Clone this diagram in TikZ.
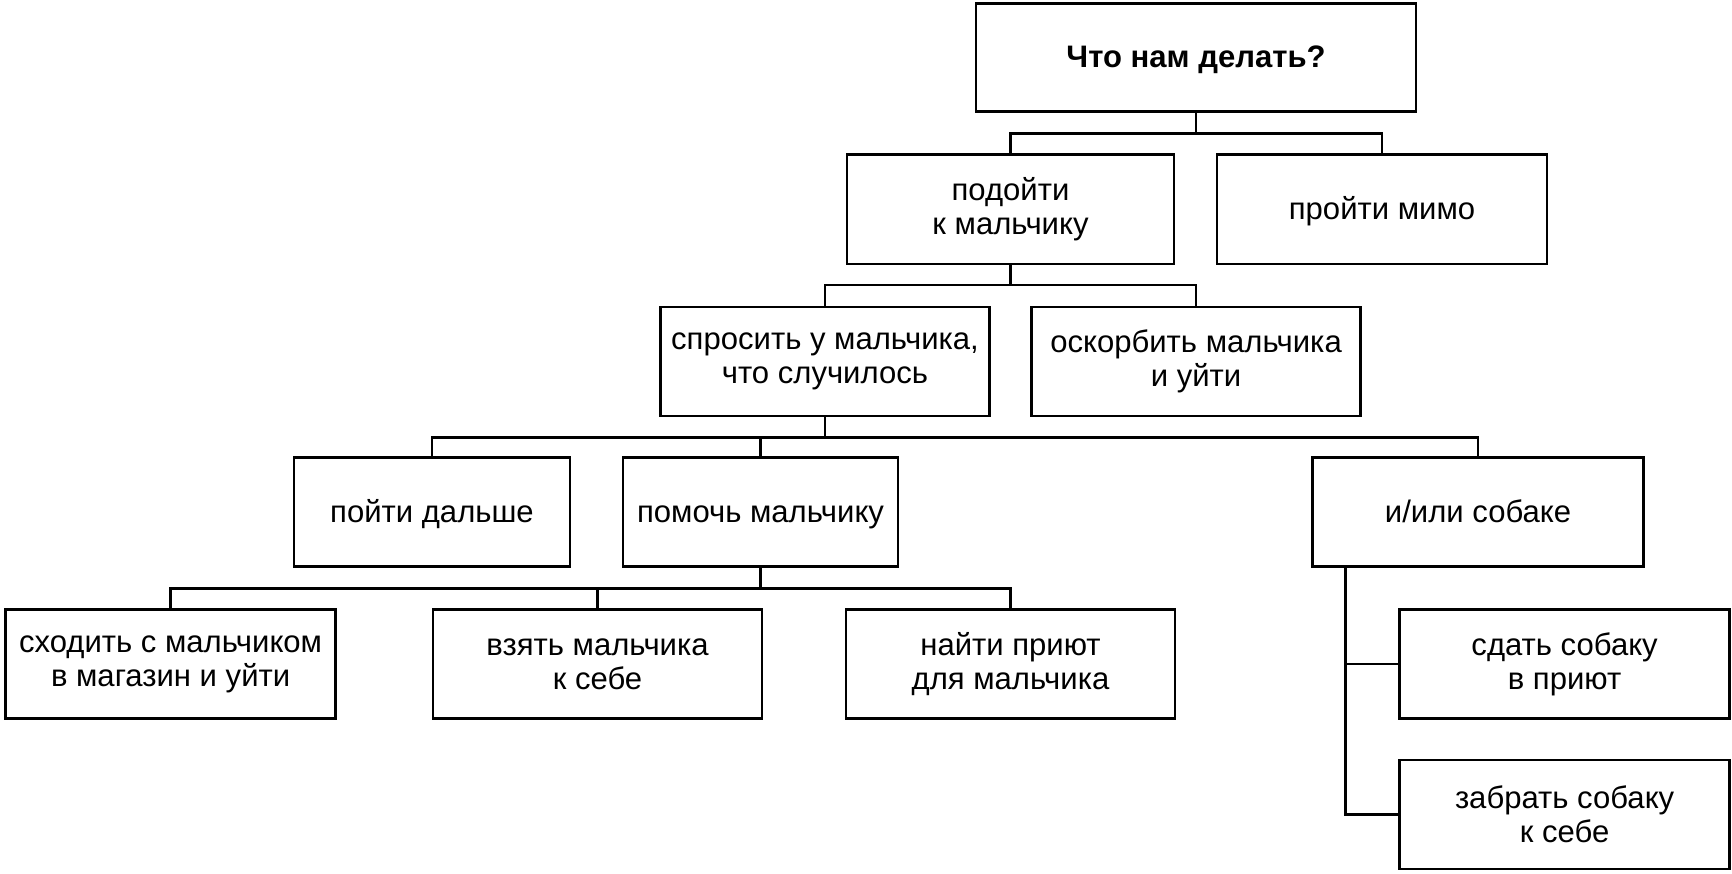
\documentclass[tikz,border=0pt]{standalone}
\usepackage{fontspec}
\setmainfont{Liberation Sans}
\begin{document}
\begin{tikzpicture}[x=0.75pt,y=-0.75pt,
  box/.style={draw=black,line width=1.9pt,rectangle,inner sep=0pt,align=center,
    font=\fontsize{23.3}{25.5}\selectfont,minimum height=82pt},
  one/.style={text height=19pt,text depth=4pt},
  w/.style={minimum width=#1*0.75pt},
  conn/.style={draw=black,line width=2pt}]
\useasboundingbox (0,0) rectangle (1732,874);
% nodes
\node[box,one,w=440,minimum height=81pt,font=\fontsize{23.3}{25.5}\selectfont\bfseries] (top) at (1196,57.5) {Что нам делать?};
\node[box,w=327] (a2) at (1010.5,209.3) {подойти\\к мальчику};
\node[box,one,w=330] (b2) at (1382,209.3) {пройти мимо};
\node[box,w=329] (a3) at (825,361.5) {спросить у мальчика,\\что случилось};
\node[box,w=329] (b3) at (1196,361.5) {оскорбить мальчика\\и уйти};
\node[box,one,w=276] (c1) at (432,512) {пойти дальше};
\node[box,one,w=275] (c2) at (760.5,512) {помочь мальчику};
\node[box,one,w=331] (c3) at (1478,512) {и/или собаке};
\node[box,w=330] (d1) at (170.6,664) {сходить с мальчиком\\в магазин и уйти};
\node[box,w=329] (d2) at (597.5,664) {взять мальчика\\к себе};
\node[box,w=329] (d3) at (1010.5,664) {найти приют\\для мальчика};
\node[box,w=330] (e1) at (1564.6,664) {сдать собаку\\в приют};
\node[box,w=330] (e2) at (1564.6,814.5) {забрать собаку\\к себе};
% junctions
\coordinate (j1) at (1196,133.6);
\coordinate (j2) at (1010.5,285);
\coordinate (j3) at (825,437.4);
\coordinate (j4) at (760.5,588.7);
% connectors
\draw[conn] (top.south) -- (j1);
\draw[conn] (a2.north) |- (j1);
\draw[conn] (b2.north) |- (j1);
\draw[conn] (a2.south) -- (j2);
\draw[conn] (a3.north) |- (j2);
\draw[conn] (b3.north) |- (j2);
\draw[conn] (a3.south) -- (j3);
\draw[conn] (c1.north) |- (j3);
\draw[conn] (c2.north) |- (j3);
\draw[conn] (c3.north) |- (j3);
\draw[conn] (c2.south) -- (j4);
\draw[conn] (d1.north) |- (j4);
\draw[conn] (d2.north) |- (j4);
\draw[conn] (d3.north) |- (j4);
\draw[conn] (c3.south west) ++(34.5,0) |- (e1.west);
\draw[conn] (c3.south west) ++(34.5,0) |- (e2.west);
\end{tikzpicture}
\end{document}
